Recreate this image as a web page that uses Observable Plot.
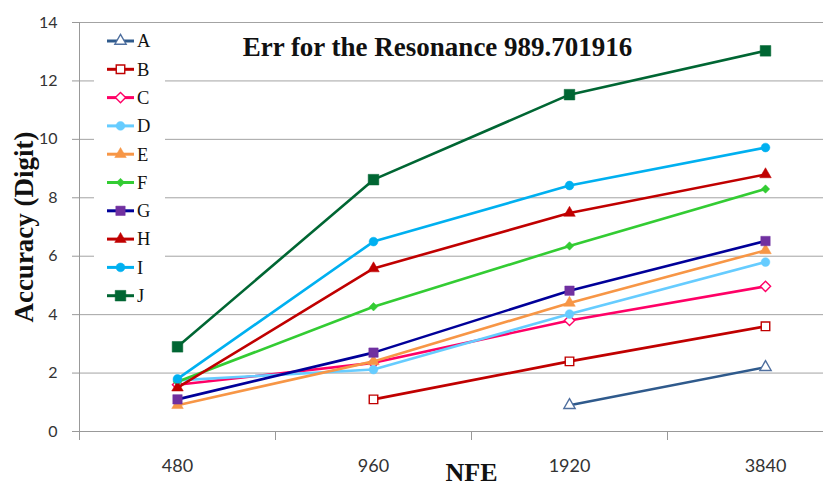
<!DOCTYPE html>
<html><head><meta charset="utf-8">
<script src="https://cdn.jsdelivr.net/npm/d3@7"></script>
<script src="https://cdn.jsdelivr.net/npm/@observablehq/plot@0.6"></script>
<style>
body{margin:0;background:#fff;}
#wrap{position:relative;width:823px;height:487px;overflow:hidden;background:#fff;}
#wrap > svg.plot{position:absolute;left:0;top:0;}
#title{position:absolute;left:437.5px;top:34px;transform:translateX(-50%);white-space:nowrap;
 font-family:"Liberation Serif","Times New Roman",serif;font-weight:bold;font-size:27px;line-height:27px;color:#111;}
#legend{position:absolute;left:94px;top:26px;}
</style></head><body><div id="wrap"><div id="title"></div></div>
<script>
// ---- data ----
const nfe = ["480", "960", "1920", "3840"];
const seriesNames = ["A", "B", "C", "D", "E", "F", "G", "H", "I", "J"];
const A = [null, null, 0.9, 2.2];
const B = [null, 1.1, 2.4, 3.6];
const C = [1.6, 2.35, 3.8, 4.97];
const D = [1.75, 2.12, 4.02, 5.8];
const E = [0.9, 2.4, 4.4, 6.2];
const F = [1.7, 4.27, 6.35, 8.3];
const G = [1.1, 2.7, 4.82, 6.52];
const H = [1.5, 5.58, 7.48, 8.8];
const I = [1.8, 6.5, 8.42, 9.72];
const J = [2.9, 8.62, 11.53, 13.03];
const seriesValues = [A, B, C, D, E, F, G, H, I, J];
const yTicks = [0, 2, 4, 6, 8, 10, 12, 14];
const titleText = "Err for the Resonance 989.701916";
const xLabel = "NFE";
const yLabel = "Accuracy (Digit)";

// ---- styles ----
const lineColors   = ["#2F5A8C", "#C00000", "#FF0066", "#66CCFF", "#F79646", "#33CC33", "#000099", "#C00000", "#00B0F0", "#006633"];
const markerFills  = ["#ffffff", "#ffffff", "#ffffff", "#66CCFF", "#F79646", "#33CC33", "#7030A0", "#C00000", "#00B0F0", "#006633"];
const markerStroke = ["#4F6F9F", "#C00000", "#FF0066", "#66CCFF", "#F79646", "#33CC33", "#7030A0", "#C00000", "#00B0F0", "#006633"];
const markerSymbol = ["triangle", "square", "diamond2", "circle", "triangle", "diamond2", "square", "triangle", "circle", "square"];
const markerR      = [4.2, 4.8, 4.6, 4.4, 4.3, 3.8, 5.3, 4.3, 4.4, 6.0];
const d3Symbols = {triangle: d3.symbolTriangle, square: d3.symbolSquare, diamond2: d3.symbolDiamond2, circle: d3.symbolCircle};

const serif = "'Liberation Serif','Times New Roman',serif";
const sans = "Lato, 'DejaVu Sans', sans-serif";

const marks = [];
// grid
marks.push(Plot.ruleY(yTicks.filter(t => t > 0), {stroke: "#a3a3a3", strokeWidth: 1}));
// axis lines
marks.push(Plot.ruleX([0], {stroke: "#999", strokeWidth: 1}));
marks.push(Plot.ruleY([0], {stroke: "#999", strokeWidth: 1}));
marks.push(Plot.axisY({ticks: yTicks, tickSize: 7, tickPadding: 15, stroke: "#999", fill: "#333", fontSize: 16, fontFamily: sans, label: null}));
marks.push(Plot.axisX({ticks: d3.range(nfe.length + 1), tickSize: 9, tickFormat: () => "", stroke: "#999", label: null}));
marks.push(Plot.axisX({ticks: nfe.map((_, i) => i + 0.5), tickSize: 0, tickPadding: 28, tickFormat: d => nfe[Math.floor(d)], fill: "#333", fontSize: 18, fontFamily: sans, label: null}));

seriesNames.forEach((name, k) => {
  const rows = nfe.map((n, i) => ({series: name, i, v: seriesValues[k][i]})).filter(d => d.v != null);
  marks.push(Plot.line(rows, {x: d => d.i + 0.5, y: "v", stroke: lineColors[k], strokeWidth: 2.6}));
  marks.push(Plot.dot(rows, {x: d => d.i + 0.5, y: "v", symbol: () => markerSymbol[k], r: markerR[k],
    fill: markerFills[k], stroke: markerStroke[k], strokeWidth: markerFills[k] === "#ffffff" ? 1.4 : 0.5}));
});

// axis labels
marks.push(Plot.text([yLabel], {text: d => d, frameAnchor: "left", dx: -55, rotate: -90, textAnchor: "middle", fontSize: 27, fontWeight: "bold", fontFamily: serif, fill: "#111"}));
marks.push(Plot.text([xLabel], {text: d => d, x: () => nfe.length / 2, frameAnchor: "bottom", dy: 49, lineAnchor: "bottom", fontSize: 26, fontWeight: "bold", fontFamily: serif, fill: "#111"}));

const chart = Plot.plot({
  width: 823, height: 487,
  marginLeft: 79, marginRight: 0, marginTop: 22, marginBottom: 56,
  x: {type: "linear", domain: [0, nfe.length], range: [79, 863]},
  y: {domain: [0, 14], range: [431, 22]},
  symbol: {type: "identity"},
  style: {background: "transparent", overflow: "visible"},
  marks
});
chart.classList.add("plot");
const wrap = document.getElementById("wrap");
wrap.insertBefore(chart, wrap.firstChild);
document.getElementById("title").textContent = titleText;

// legend
const legW = 71, legH = 283, rowStart = 15, rowStep = 28.3;
const leg = d3.select(wrap).append("svg").attr("id", "legend").attr("width", legW).attr("height", legH);
leg.append("rect").attr("width", legW).attr("height", legH).attr("fill", "#fff");
seriesNames.forEach((name, k) => {
  const g = leg.append("g").attr("transform", `translate(0,${rowStart + k * rowStep})`);
  g.append("line").attr("x1", 13).attr("x2", 40).attr("stroke", lineColors[k]).attr("stroke-width", 3);
  g.append("path").attr("transform", "translate(26.5,0)")
    .attr("d", d3.symbol(d3Symbols[markerSymbol[k]], Math.PI * markerR[k] * markerR[k])())
    .attr("fill", markerFills[k]).attr("stroke", markerStroke[k])
    .attr("stroke-width", markerFills[k] === "#ffffff" ? 1.4 : 0.5);
  g.append("text").attr("x", 43).attr("y", 6.3).text(name)
    .attr("font-family", serif).attr("font-size", 18.5).attr("fill", "#111");
});
</script>
</body></html>
